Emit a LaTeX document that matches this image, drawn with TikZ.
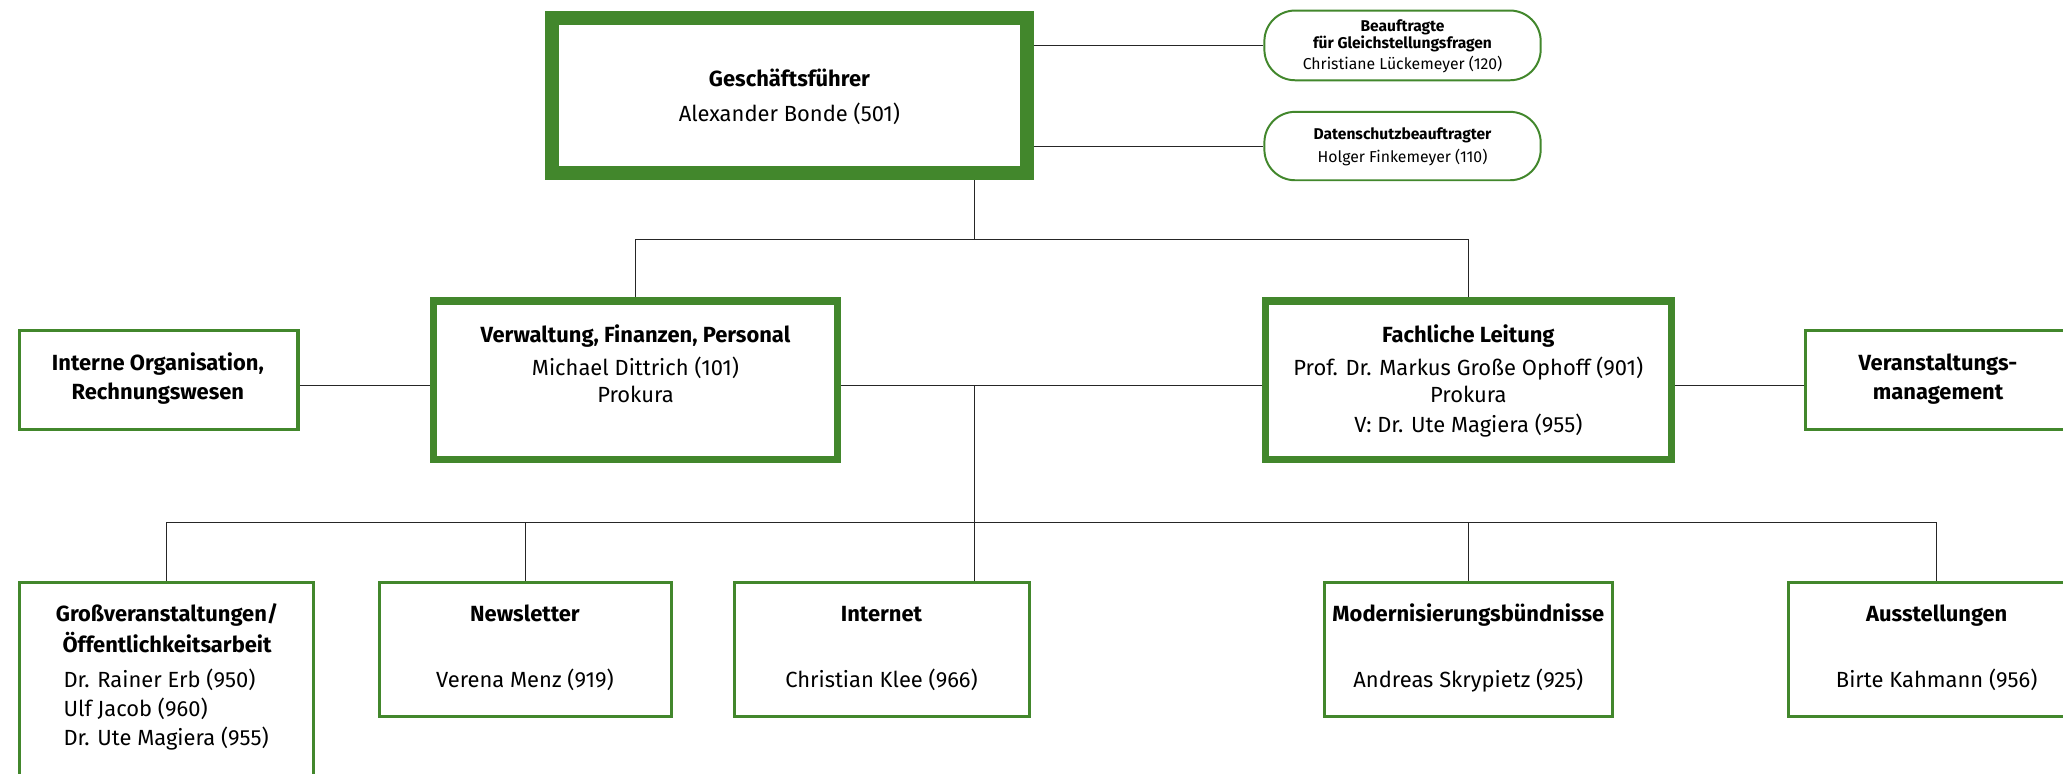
\documentclass[tikz,border=0pt]{standalone}
\usepackage{fontspec}
\setmainfont{Fira Sans}
\usetikzlibrary{fit,backgrounds}
\definecolor{ogreen}{RGB}{66,135,44}
\begin{document}
\begin{tikzpicture}[x=0.6pt,y=-0.6pt,
  box/.style={draw=ogreen, line width=1.4pt, inner sep=0pt, fill=white},
  bigbox/.style={box, line width=3.3pt},
  headbox/.style={box, line width=6.6pt},
  roundbox/.style={box, line width=0.9pt, rounded corners=14pt},
  link/.style={draw=black!85, line width=0.5pt},
  t/.style={inner sep=0pt, text height=6.8pt, text depth=0pt, font=\fontsize{10}{12}\selectfont},
  tb/.style={inner sep=0pt, text height=6.8pt, text depth=0pt, font=\fontsize{10}{12}\selectfont\bfseries},
  s/.style={inner sep=0pt, text height=5pt, text depth=0pt, font=\fontsize{7.2}{8.5}\selectfont},
  sb/.style={inner sep=0pt, text height=5pt, text depth=0pt, font=\fontsize{7.1}{8.5}\selectfont\bfseries}]
\path[use as bounding box] (0,0) rectangle (1568,588);
\clip (0,0) rectangle (1568,588);

% boxes
\node[headbox, fit={(419.5,13.5) (780.5,131.5)}] (gf) {};
\node[roundbox, fit={(961,8) (1171,61)}] (beau) {};
\node[roundbox, fit={(961,85) (1171,137)}] (dsb) {};
\node[bigbox, fit={(329.75,228.75) (636.25,349.25)}] (vfp) {};
\node[bigbox, fit={(961.75,228.75) (1270.25,349.25)}] (fl) {};
\node[box, fit={(14.5,251.5) (226.5,326.5)}] (io) {};
\node[box, fit={(1372.5,251.5) (1573.5,326.5)}] (vm) {};
\node[box, fit={(14.5,442.5) (238.5,600)}] (gross) {};
\node[box, fit={(288.5,442.5) (510.5,544.5)}] (news) {};
\node[box, fit={(558.5,442.5) (782.5,544.5)}] (inet) {};
\node[box, fit={(1006.5,442.5) (1225.5,544.5)}] (mod) {};
\node[box, fit={(1359.5,442.5) (1584.5,544.5)}] (aus) {};

% junctions
\coordinate (j1) at (741,182);
\coordinate (j2) at (741,293);
\coordinate (j3) at (741,397);

\begin{scope}[on background layer]
\draw[link] (gf.east |- beau.west) -- (beau.west);
\draw[link] (gf.east |- dsb.west) -- (dsb.west);
\draw[link] (gf.south -| j1) -- (j1);
\draw[link] (vfp.north) |- (j1) -| (fl.north);
\draw[link] (io.east |- j2) -- (vfp.west |- j2);
\draw[link] (vfp.east |- j2) -- (fl.west |- j2);
\draw[link] (fl.east |- j2) -- (vm.west |- j2);
\draw[link] (j2) -- (j2 |- inet.north);
\draw[link] (gross.north) |- (aus.north |- j3) -- (aus.north);
\draw[link] (news.north) -- (news.north |- j3);
\draw[link] (mod.north) -- (mod.north |- j3);
\end{scope}

% texts
\node[tb] (gf1) at (600,60) {Geschäftsführer};
\node[t]  (gf2) at (600,87) {Alexander Bonde (501)};

\node[sb] (be1) at (1066,20) {Beauftragte};
\node[sb] (be2) at (1066,33) {für Gleichstellungsfragen};
\node[s]  (be3) at (1066,49) {Christiane Lückemeyer (120)};

\node[sb] (ds1) at (1066,102) {Datenschutzbeauftragter};
\node[s]  (ds2) at (1066,119) {Holger Finkemeyer (110)};

\node[tb] (vf1) at (483,255) {Verwaltung, Finanzen, Personal};
\node[t]  (vf2) at (483,280) {Michael Dittrich (101)};
\node[t]  (vf3) at (483,300) {Prokura};

\node[tb] (fl1) at (1116,255) {Fachliche Leitung};
\node[t]  (fl2) at (1116,280) {Prof. Dr. Markus Große Ophoff (901)};
\node[t]  (fl3) at (1116,300) {Prokura};
\node[t]  (fl4) at (1116,323) {V: Dr. Ute Magiera (955)};

\node[tb] (io1) at (120,276) {Interne Organisation,};
\node[tb] (io2) at (120,298) {Rechnungswesen};

\node[tb] (vm1) at (1473,276) {Veranstaltungs-};
\node[tb] (vm2) at (1473,298) {management};

\node[tb] (gr1) at (127,467) {Großveranstaltungen/};
\node[tb] (gr2) at (127,490) {Öffentlichkeitsarbeit};
\node[t, anchor=west] (gr3) at (48,517) {Dr. Rainer Erb (950)};
\node[t, anchor=west] (gr4) at (48,539) {Ulf Jacob (960)};
\node[t, anchor=west] (gr5) at (48,561) {Dr. Ute Magiera (955)};

\node[tb] (nw1) at (399,467) {Newsletter};
\node[t]  (nw2) at (399,517) {Verena Menz (919)};

\node[tb] (in1) at (670,467) {Internet};
\node[t]  (in2) at (670,517) {Christian Klee (966)};

\node[tb] (mo1) at (1116,467) {Modernisierungsbündnisse};
\node[t]  (mo2) at (1116,517) {Andreas Skrypietz (925)};

\node[tb] (au1) at (1472,467) {Ausstellungen};
\node[t]  (au2) at (1472,517) {Birte Kahmann (956)};
\end{tikzpicture}
\end{document}
